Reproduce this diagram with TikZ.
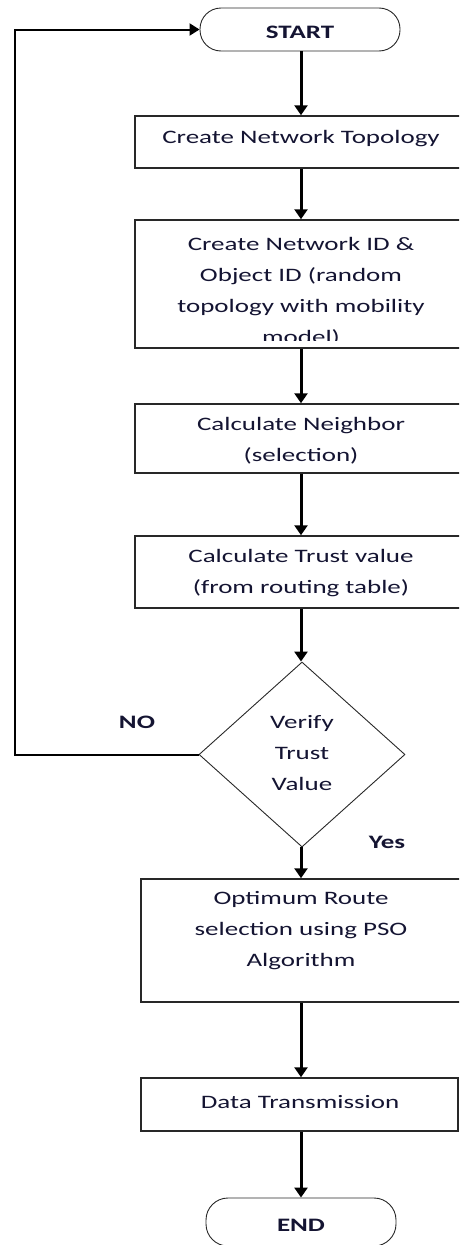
\documentclass[tikz,border=0pt]{standalone}
\usepackage{fontspec}
\setmainfont{Carlito}[FakeStretch=1.42]
\usetikzlibrary{arrows.meta,shapes.geometric}
\definecolor{txtc}{RGB}{20,20,50}
\definecolor{linec}{RGB}{40,40,40}
\tikzset{
  box/.style={draw=linec, line width=1.5pt, rectangle, inner sep=0pt, minimum width=332pt},
  term/.style={draw=linec, line width=0.9pt, rectangle, rounded corners=21pt, inner sep=0pt, minimum width=200pt, minimum height=43pt},
  decision/.style={draw=linec, line width=0.9pt, diamond, inner sep=0pt, minimum width=206pt, minimum height=185pt},
  txt/.style={font=\fontsize{19pt}{31pt}\selectfont, align=center, text=txtc, inner sep=0pt},
  btxt/.style={txt, font=\fontsize{19pt}{31pt}\selectfont\bfseries},
  arr/.style={draw=black, line width=3pt, -{Triangle[width=13pt,length=10pt]}},
  loopline/.style={draw=black, line width=2pt, -{Triangle[width=12pt,length=10pt]}}
}
\begin{document}
\begin{tikzpicture}[x=1pt,y=-1pt]
\useasboundingbox (0,0) rectangle (459,1245);
\clip (0,0) rectangle (459,1245);

% shapes
\node[term] (start) at (300,29.5) {};
\node[box, minimum height=52pt] (b1) at (301,142) {};
\node[box, minimum height=128pt] (b2) at (301,284) {};
\node[box, minimum height=69pt] (b3) at (301,438.5) {};
\node[box, minimum height=72pt] (b4) at (301,572) {};
\node[decision] (dia) at (302,754.5) {};
\node[box, minimum width=320pt, minimum height=123pt] (b5) at (301,940.5) {};
\node[box, minimum width=317pt, minimum height=53pt] (b6) at (299.5,1104.5) {};
\node[term, minimum width=190pt, minimum height=48pt, rounded corners=22pt] (end) at (301,1222) {};

% texts
\node[btxt] (tstart) at (300,32) {START};
\node[txt] (t1) at (301,139) {Create Network Topology};
\coordinate (clipbottom) at (0,340);
\begin{scope}
  \clip (b2.north west) rectangle (b2.east |- clipbottom);
  \node[txt] (t2) at (301,292) {Create Network ID \&\\Object ID (random\\topology with mobility\\model)};
\end{scope}
\node[txt] (t3) at (301,441) {Calculate Neighbor\\(selection)};
\node[txt] (t4) at (301,573) {Calculate Trust value\\(from routing table)};
\node[txt] (td) at (302,753) {Verify\\Trust\\Value};
\node[txt] (t5) at (301,931) {Optimum Route\\selection using PSO\\Algorithm};
\node[txt] (t6) at (300,1102) {Data Transmission};
\node[btxt] (tend) at (301,1225) {END};
\node[btxt] (lno) at (137,722) {NO};
\node[btxt] (lyes) at (387,842) {Yes};

% connectors
\draw[arr] (start.south -| b1.north) -- (b1.north);
\draw[arr] (b1) -- (b2);
\draw[arr] (b2) -- (b3);
\draw[arr] (b3) -- (b4);
\draw[arr] (b4.south) -- (b4.south |- dia.north);
\draw[arr] (dia.south -| b5.north) -- (b5.north);
\draw[arr] (b5.south) -- (b5.south |- b6.north);
\draw[arr] (b5.south |- b6.south) -- (b5.south |- end.north);
\coordinate (lx) at (15,0);
\draw[loopline] (dia.west) -- (dia.west -| lx) |- (start.west);
\end{tikzpicture}
\end{document}
